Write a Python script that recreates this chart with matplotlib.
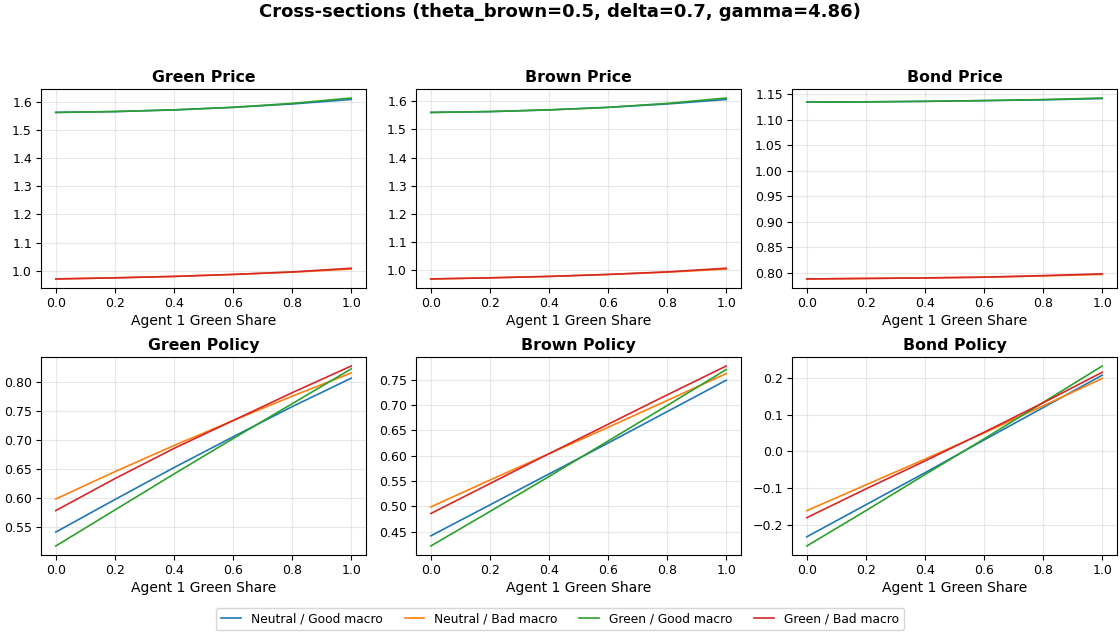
import numpy as np
import matplotlib
matplotlib.use("Agg")
import matplotlib.pyplot as plt

x = [0.0, 0.2, 0.4, 0.6, 0.8, 1.0]
labels = ["Neutral / Good macro", "Neutral / Bad macro", "Green / Good macro", "Green / Bad macro"]
colors = ["#1f77b4", "#ff7f0e", "#2ca02c", "#d62728"]

green_price = [
    [1.562, 1.565, 1.571, 1.580, 1.592, 1.608],
    [0.971, 0.975, 0.980, 0.987, 0.995, 1.006],
    [1.562, 1.565, 1.571, 1.580, 1.594, 1.613],
    [0.971, 0.975, 0.980, 0.987, 0.996, 1.009],
]
brown_price = [
    [1.560, 1.563, 1.569, 1.578, 1.590, 1.606],
    [0.970, 0.974, 0.979, 0.986, 0.994, 1.005],
    [1.560, 1.563, 1.569, 1.578, 1.592, 1.611],
    [0.970, 0.974, 0.979, 0.986, 0.995, 1.008],
]
bond_price = [
    [1.135, 1.1355, 1.1365, 1.138, 1.1395, 1.142],
    [0.788, 0.789, 0.790, 0.7915, 0.794, 0.797],
    [1.135, 1.1355, 1.1365, 1.138, 1.140, 1.143],
    [0.788, 0.789, 0.790, 0.7915, 0.7945, 0.798],
]
green_policy = [
    [0.541, 0.597, 0.652, 0.705, 0.757, 0.806],
    [0.598, 0.645, 0.690, 0.733, 0.775, 0.815],
    [0.517, 0.579, 0.641, 0.702, 0.762, 0.822],
    [0.578, 0.633, 0.685, 0.733, 0.781, 0.827],
]
brown_policy = [
    [0.442, 0.503, 0.564, 0.625, 0.687, 0.749],
    [0.499, 0.552, 0.604, 0.656, 0.709, 0.762],
    [0.422, 0.490, 0.559, 0.629, 0.699, 0.770],
    [0.486, 0.545, 0.604, 0.662, 0.720, 0.777],
]
bond_policy = [
    [-0.232, -0.145, -0.058, 0.031, 0.119, 0.207],
    [-0.161, -0.091, -0.021, 0.050, 0.124, 0.198],
    [-0.257, -0.161, -0.063, 0.034, 0.133, 0.232],
    [-0.180, -0.102, -0.026, 0.052, 0.132, 0.215],
]

panels = [
    ("Green Price", green_price, np.arange(1.0, 1.61, 0.1)),
    ("Brown Price", brown_price, np.arange(1.0, 1.61, 0.1)),
    ("Bond Price", bond_price, np.arange(0.80, 1.151, 0.05)),
    ("Green Policy", green_policy, np.arange(0.55, 0.801, 0.05)),
    ("Brown Policy", brown_policy, np.arange(0.45, 0.751, 0.05)),
    ("Bond Policy", bond_policy, np.arange(-0.2, 0.21, 0.1)),
]

fig = plt.figure(figsize=(11.2, 6.33), dpi=100)
W, H = 1120, 633
lefts = [41, 416, 792]
width = 325
rows = [(89, 288), (357, 555)]

for i, (title, data, yt) in enumerate(panels):
    r, c = divmod(i, 3)
    top, bot = rows[r]
    ax = fig.add_axes([lefts[c] / W, 1 - bot / H, width / W, (bot - top) / H])
    for s, (lab, col) in enumerate(zip(labels, colors)):
        ax.plot(x, data[s], color=col, label=lab, lw=1.2)
    ax.set_title(title, fontsize=11.3, fontweight="bold", pad=5)
    ax.set_xlabel("Agent 1 Green Share", fontsize=10, labelpad=3)
    ax.grid(True, alpha=0.3)
    ax.tick_params(labelsize=9, pad=3)
    ax.set_xticks([0.0, 0.2, 0.4, 0.6, 0.8, 1.0])
    ax.set_yticks(yt)
    if i == 0:
        handles, labs = ax.get_legend_handles_labels()

fig.suptitle("Cross-sections (theta_brown=0.5, delta=0.7, gamma=4.86)", fontsize=13, fontweight="bold", y=0.995)
fig.legend(handles, labs, loc="lower center", ncol=4, fontsize=8.8, bbox_to_anchor=(0.5, 0.004),
           borderaxespad=0.0, handlelength=1.6, columnspacing=1.8, frameon=True)

fig.savefig("out.png", dpi=100)
